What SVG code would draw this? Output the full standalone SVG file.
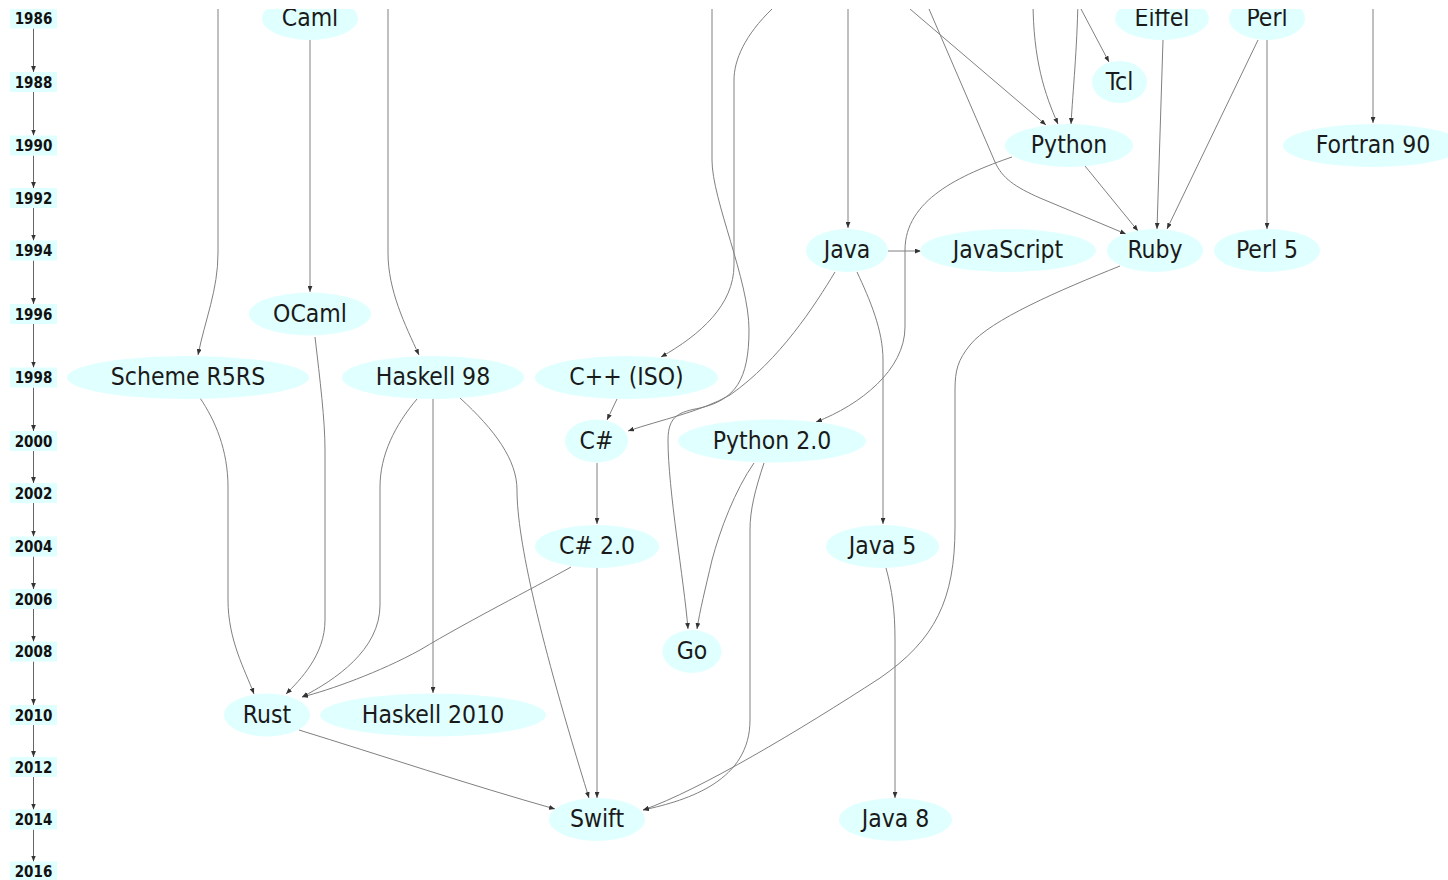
<svg xmlns="http://www.w3.org/2000/svg" width="1448" height="880" viewBox="0 0 1448 880">
<style>
.yr rect{fill:#e0ffff}
.yr text{font-family:"DejaVu Sans Condensed","DejaVu Sans",sans-serif;font-stretch:condensed;font-weight:bold;font-size:15px;fill:#111;text-anchor:middle}
.n ellipse{fill:#e0ffff}
.n text{font-family:"DejaVu Sans Condensed","DejaVu Sans",sans-serif;font-stretch:condensed;font-size:24.5px;fill:#1a1a1a;text-anchor:middle}
.e path{fill:none;stroke:#808080;stroke-width:1;marker-end:url(#ah)}
.t path{fill:none;stroke:#666;stroke-width:1;marker-end:url(#ah)}
</style>
<defs>
<marker id="ah" viewBox="0 0 10 8" refX="10" refY="4" markerWidth="6" markerHeight="5" markerUnits="userSpaceOnUse" orient="auto"><path d="M0,0 L10,4 L0,8 z" fill="#333"/></marker>
<clipPath id="clip"><rect x="0" y="9" width="1448" height="871"/></clipPath>
</defs>
<rect width="1448" height="880" fill="#fff"/>
<g clip-path="url(#clip)">
<g id="connectors">
<g class="t">
<path d="M33.5,28.5 V72"/>
<path d="M33.5,92 V135.5"/>
<path d="M33.5,155.5 V188"/>
<path d="M33.5,208 V240.5"/>
<path d="M33.5,260.5 V304"/>
<path d="M33.5,324 V367.5"/>
<path d="M33.5,387.5 V431"/>
<path d="M33.5,451 V483"/>
<path d="M33.5,503 V536.5"/>
<path d="M33.5,556.5 V589"/>
<path d="M33.5,609 V641.5"/>
<path d="M33.5,661.5 V705"/>
<path d="M33.5,725 V757"/>
<path d="M33.5,777 V809.5"/>
<path d="M33.5,829.5 V861.5"/>
</g>
<g class="e">
<path d="M218,0 V253 C218,290 205,320 198,355"/>
<path d="M310,40 V292"/>
<path d="M388,0 V253 C388,290 405,325 419,355"/>
<path d="M712,0 V160 C712,200 749,280 749,330 C749,380 735,400 700,408 C680,412 668,415 668,440 C668,490 684,580 688,629"/>
<path d="M772,9 C745,35 734,60 734,80 V265 C734,305 700,335 661,357"/>
<path d="M848,0 V228"/>
<path d="M910,9 L1046,125"/>
<path d="M929,9 L995,162 C1002,178 1015,187 1040,198 L1126,234"/>
<path d="M1033,0 C1033,60 1045,95 1058,124"/>
<path d="M1078,0 C1077,50 1073,90 1071,124"/>
<path d="M1081,9 L1109,62"/>
<path d="M1373,0 V123"/>
<path d="M1163,40 L1157,229"/>
<path d="M1258,40 L1167,229"/>
<path d="M1267,40 V229"/>
<path d="M1085,166 L1138,231"/>
<path d="M1012,157 C960,175 905,200 905,250 V327 C905,370 860,405 816,422"/>
<path d="M888,251 H921"/>
<path d="M835,272 C815,305 780,360 730,395 C700,412 660,420 628,431"/>
<path d="M857,272 C870,300 883,330 883,360 V524"/>
<path d="M886,568 C892,590 895,610 895,640 V798"/>
<path d="M617,399 L607,420"/>
<path d="M597,463 V524"/>
<path d="M433,399 V693"/>
<path d="M200,398 C215,420 228,450 228,487 V600 C228,640 245,670 254,694"/>
<path d="M315,337 C320,380 325,420 325,450 V620 C325,655 300,680 286,694"/>
<path d="M417,399 C395,425 380,455 380,487 V605 C380,650 335,680 302,697"/>
<path d="M571,567 C530,590 470,620 420,650 C380,672 330,690 302,697"/>
<path d="M460,398 C495,430 517,460 517,490 C517,540 540,640 589,798"/>
<path d="M597,568 V798"/>
<path d="M299,730 C380,755 470,785 555,809"/>
<path d="M754,463 C735,490 720,530 712,560 C705,590 700,610 697,629"/>
<path d="M764,463 C755,490 750,510 750,530 V720 C750,780 690,800 643,810"/>
<path d="M1120,266 C1060,290 990,320 970,345 C958,360 955,370 955,390 V527 C955,600 935,640 880,678 C800,730 700,790 643,810"/>
</g>
</g>
<g id="years" class="yr">
<g id="y1986"><rect x="10" y="8.5" width="47" height="20"/><text x="33.5" y="24">1986</text></g>
<g id="y1988"><rect x="10" y="72" width="47" height="20"/><text x="33.5" y="87.5">1988</text></g>
<g id="y1990"><rect x="10" y="135.5" width="47" height="20"/><text x="33.5" y="151">1990</text></g>
<g id="y1992"><rect x="10" y="188" width="47" height="20"/><text x="33.5" y="203.5">1992</text></g>
<g id="y1994"><rect x="10" y="240.5" width="47" height="20"/><text x="33.5" y="256">1994</text></g>
<g id="y1996"><rect x="10" y="304" width="47" height="20"/><text x="33.5" y="319.5">1996</text></g>
<g id="y1998"><rect x="10" y="367.5" width="47" height="20"/><text x="33.5" y="383">1998</text></g>
<g id="y2000"><rect x="10" y="431" width="47" height="20"/><text x="33.5" y="446.5">2000</text></g>
<g id="y2002"><rect x="10" y="483" width="47" height="20"/><text x="33.5" y="498.5">2002</text></g>
<g id="y2004"><rect x="10" y="536.5" width="47" height="20"/><text x="33.5" y="552">2004</text></g>
<g id="y2006"><rect x="10" y="589" width="47" height="20"/><text x="33.5" y="604.5">2006</text></g>
<g id="y2008"><rect x="10" y="641.5" width="47" height="20"/><text x="33.5" y="657">2008</text></g>
<g id="y2010"><rect x="10" y="705" width="47" height="20"/><text x="33.5" y="720.5">2010</text></g>
<g id="y2012"><rect x="10" y="757" width="47" height="20"/><text x="33.5" y="772.5">2012</text></g>
<g id="y2014"><rect x="10" y="809.5" width="47" height="20"/><text x="33.5" y="825">2014</text></g>
<g id="y2016"><rect x="10" y="861.5" width="47" height="20"/><text x="33.5" y="877">2016</text></g>
</g>
<g id="caml" class="n"><ellipse cx="310" cy="18.5" rx="48" ry="21.5"/><text x="310" y="26">Caml</text></g>
<g id="eiffel" class="n"><ellipse cx="1162" cy="18.5" rx="47" ry="21.5"/><text x="1162" y="26">Eiffel</text></g>
<g id="perl" class="n"><ellipse cx="1267" cy="18.5" rx="38" ry="21.5"/><text x="1267" y="26">Perl</text></g>
<g id="tcl" class="n"><ellipse cx="1119.5" cy="82" rx="27.5" ry="21"/><text x="1119.5" y="89.5">Tcl</text></g>
<g id="python" class="n"><ellipse cx="1069" cy="145.5" rx="64" ry="21.5"/><text x="1069" y="153">Python</text></g>
<g id="fortran90" class="n"><ellipse cx="1373" cy="145.5" rx="90" ry="21.5"/><text x="1373" y="153">Fortran 90</text></g>
<g id="java" class="n"><ellipse cx="847" cy="250.5" rx="41" ry="21.5"/><text x="847" y="258">Java</text></g>
<g id="javascript" class="n"><ellipse cx="1008" cy="250.5" rx="88" ry="21.5"/><text x="1008" y="258">JavaScript</text></g>
<g id="ruby" class="n"><ellipse cx="1155" cy="250.5" rx="48" ry="21.5"/><text x="1155" y="258">Ruby</text></g>
<g id="perl5" class="n"><ellipse cx="1267" cy="250.5" rx="53" ry="21.5"/><text x="1267" y="258">Perl 5</text></g>
<g id="ocaml" class="n"><ellipse cx="310" cy="314" rx="61" ry="21.5"/><text x="310" y="321.5">OCaml</text></g>
<g id="scheme" class="n"><ellipse cx="188" cy="377.5" rx="121" ry="21.5"/><text x="188" y="385">Scheme R5RS</text></g>
<g id="haskell98" class="n"><ellipse cx="433" cy="377.5" rx="91" ry="21.5"/><text x="433" y="385">Haskell 98</text></g>
<g id="cppiso" class="n"><ellipse cx="626.5" cy="377.5" rx="91.5" ry="21.5"/><text x="626.5" y="385">C++ (ISO)</text></g>
<g id="csharp" class="n"><ellipse cx="596.5" cy="441" rx="31.5" ry="21.5"/><text x="596.5" y="448.5">C#</text></g>
<g id="python20" class="n"><ellipse cx="772" cy="441" rx="94" ry="21.5"/><text x="772" y="448.5">Python 2.0</text></g>
<g id="csharp20" class="n"><ellipse cx="597" cy="546.5" rx="62" ry="21.5"/><text x="597" y="554">C# 2.0</text></g>
<g id="java5" class="n"><ellipse cx="882.5" cy="546.5" rx="56.5" ry="21.5"/><text x="882.5" y="554">Java 5</text></g>
<g id="go" class="n"><ellipse cx="692" cy="651.5" rx="29.5" ry="21.5"/><text x="692" y="659">Go</text></g>
<g id="rust" class="n"><ellipse cx="267" cy="715" rx="43" ry="21.5"/><text x="267" y="722.5">Rust</text></g>
<g id="haskell2010" class="n"><ellipse cx="433" cy="715" rx="113" ry="21.5"/><text x="433" y="722.5">Haskell 2010</text></g>
<g id="swift" class="n"><ellipse cx="597" cy="819.5" rx="48" ry="21.5"/><text x="597" y="827">Swift</text></g>
<g id="java8" class="n"><ellipse cx="895.5" cy="819.5" rx="56.5" ry="21.5"/><text x="895.5" y="827">Java 8</text></g>
</g>
</svg>
